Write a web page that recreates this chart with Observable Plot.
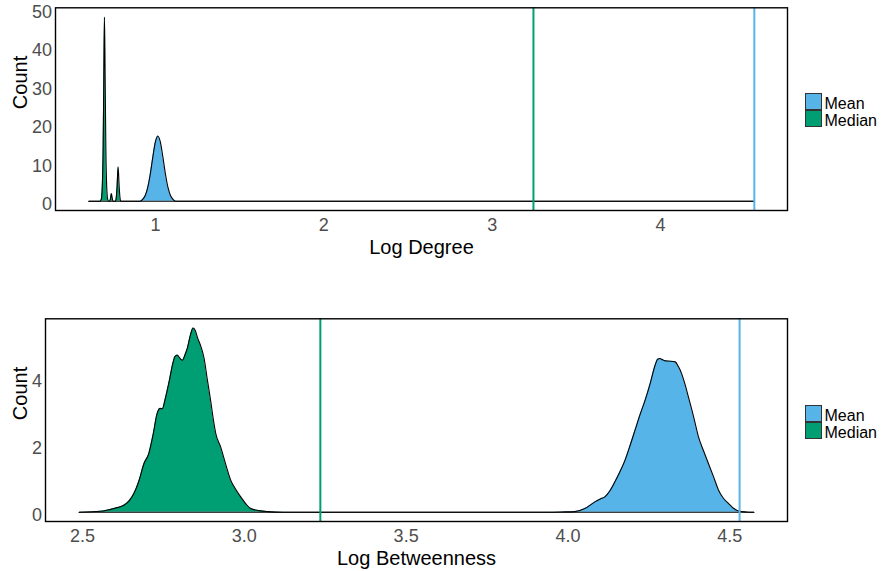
<!DOCTYPE html>
<html>
<head>
<meta charset="utf-8">
<script src="https://cdn.jsdelivr.net/npm/d3@7"></script>
<script src="https://cdn.jsdelivr.net/npm/@observablehq/plot@0.6"></script>
<style>
  html, body { margin: 0; padding: 0; background: white; }
  #wrap { position: relative; width: 881px; height: 571px; font-family: "Liberation Sans", Arial, sans-serif; }
  .panel { position: absolute; left: 0; }
  .legend { position: absolute; left: 804.5px; }
  .item { position: relative; height: 17px; }
  .sw { position: absolute; left: 0; top: 0; width: 17px; height: 17px; box-sizing: border-box; border: 1.4px solid #333; }
  .lab { position: absolute; left: 20px; top: 1.5px; font-size: 16px; line-height: 17px; color: black; white-space: nowrap; }
</style>
</head>
<body>
<div id="wrap"></div>
<script>
// ---- data ----
const seriesNames = ["Mean", "Median"];
const seriesColors = ["#56B4E9", "#009E73"];

// Log Degree densities: [x, count]
const degreeMean = [
  [0.604, 0], [0.909, 0], [0.924, 0.5], [0.939, 1.5], [0.954, 3.6], [0.969, 7.1], [0.984, 11.5],
  [0.999, 15.4], [1.014, 17], [1.029, 15.4], [1.044, 11.5], [1.059, 7.1], [1.074, 3.6],
  [1.089, 1.5], [1.104, 0.5], [1.119, 0], [4.557, 0]
];
const degreeMedian = [
  [0.604, 0], [0.670, 0], [0.678, 0.5], [0.684, 4], [0.689, 14], [0.693, 32], [0.697, 48],
  [0.701, 32], [0.705, 14], [0.710, 4], [0.716, 0.5], [0.722, 0], [0.728, 0], [0.733, 0.8],
  [0.738, 2], [0.743, 0.8], [0.748, 0], [0.762, 0], [0.767, 1], [0.772, 4], [0.778, 9],
  [0.784, 4], [0.789, 1], [0.794, 0], [4.557, 0]
];
const degreeRefLines = [4.557, 3.245]; // Mean, Median

// Log Betweenness densities: [x, count]
const betwMean = [
  [2.490, 0], [3.900, 0], [3.980, 0.01], [4.021, 0.02], [4.052, 0.11], [4.083, 0.31], [4.100, 0.40],
  [4.114, 0.46], [4.130, 0.65], [4.145, 0.91], [4.160, 1.2], [4.176, 1.55], [4.192, 2.0],
  [4.207, 2.45], [4.222, 2.9], [4.238, 3.34], [4.254, 3.85], [4.269, 4.39], [4.277, 4.57],
  [4.284, 4.59], [4.292, 4.55], [4.300, 4.52], [4.315, 4.51], [4.331, 4.49], [4.341, 4.35],
  [4.351, 4.14], [4.362, 3.8], [4.372, 3.44], [4.388, 2.85], [4.403, 2.25], [4.418, 1.85],
  [4.434, 1.45], [4.450, 1.05], [4.465, 0.66], [4.480, 0.42], [4.496, 0.26], [4.511, 0.12],
  [4.527, 0.04], [4.550, 0.01], [4.574, 0]
];
const betwMedian = [
  [2.490, 0], [2.556, 0.03], [2.600, 0.12], [2.628, 0.21], [2.645, 0.35], [2.659, 0.56],
  [2.675, 0.95], [2.690, 1.45], [2.705, 1.75], [2.718, 2.3], [2.731, 2.95], [2.740, 3.1],
  [2.747, 3.09], [2.755, 3.35], [2.762, 3.64], [2.770, 4.0], [2.778, 4.39], [2.786, 4.65],
  [2.793, 4.69], [2.801, 4.6], [2.809, 4.54], [2.817, 4.7], [2.824, 4.89], [2.834, 5.3],
  [2.842, 5.50], [2.849, 5.42], [2.855, 5.23], [2.866, 4.95], [2.876, 4.59], [2.886, 3.95],
  [2.896, 3.34], [2.904, 2.8], [2.912, 2.35], [2.927, 1.95], [2.942, 1.45], [2.958, 0.96],
  [2.974, 0.68], [2.989, 0.46], [3.005, 0.25], [3.020, 0.11], [3.045, 0.05], [3.072, 0.02],
  [3.120, 0], [4.574, 0]
];
const betwRefLines = [4.530, 3.235]; // Mean, Median

const degreeXTicks = [1, 2, 3, 4];
const degreeYTicks = [0, 10, 20, 30, 40, 50];
const betwXTicks = [2.5, 3.0, 3.5, 4.0, 4.5];
const betwYTicks = [0, 2, 4];

// ---- drawing ----
const FONT = "Liberation Sans, Arial, Helvetica, sans-serif";

function panel(o) {
  const rows = [
    ...o.mean.map(([x, y]) => ({x, y, s: seriesNames[0]})),
    ...o.median.map(([x, y]) => ({x, y, s: seriesNames[1]}))
  ];
  const refs = o.refs.map((v, i) => ({v, s: seriesNames[i]}));
  return Plot.plot({
    width: 881,
    height: o.height,
    marginTop: o.marginTop,
    marginBottom: o.marginBottom,
    marginLeft: o.marginLeft,
    marginRight: 94,
    style: {fontFamily: FONT, background: "white", overflow: "visible"},
    x: {domain: o.xDomain},
    y: {domain: o.yDomain},
    color: {domain: seriesNames, range: seriesColors},
    marks: [
      Plot.areaY(rows, {x: "x", y: "y", z: "s", fill: "s", curve: "monotone-x"}),
      Plot.lineY(rows, {x: "x", y: "y", z: "s", stroke: "black", strokeWidth: 1.1, curve: "monotone-x"}),
      Plot.ruleX(refs, {x: "v", stroke: "s", strokeWidth: 2}),
      Plot.frame({stroke: "black", strokeWidth: 1.4}),
      Plot.axisX({ticks: o.xTicks, tickFormat: o.xFormat, tickSize: 0, tickPadding: 8,
        fontSize: 18, fill: "#4d4d4d", label: null}),
      Plot.axisY({ticks: o.yTicks, tickFormat: d => String(d), tickSize: 0, tickPadding: 3.5,
        fontSize: 18, fill: "#4d4d4d", label: null, dy: 3}),
      Plot.text([o.xLabel], {text: d => d, frameAnchor: "bottom", lineAnchor: "middle", dy: 37, fontSize: 20, fill: "black"}),
      Plot.text(["Count"], {text: d => d, frameAnchor: "left", lineAnchor: "middle", dx: o.countDx, rotate: -90, fontSize: 20, fill: "black"})
    ]
  });
}

function legend(top) {
  const div = document.createElement("div");
  div.className = "legend";
  div.style.top = top + "px";
  seriesNames.forEach((name, i) => {
    const item = document.createElement("div");
    item.className = "item";
    const sw = document.createElement("div");
    sw.className = "sw";
    sw.style.background = seriesColors[i];
    const lab = document.createElement("div");
    lab.className = "lab";
    lab.textContent = name;
    item.appendChild(sw);
    item.appendChild(lab);
    div.appendChild(item);
  });
  return div;
}

const wrap = document.getElementById("wrap");

const top1 = panel({
  mean: degreeMean, median: degreeMedian, refs: degreeRefLines,
  height: 285, marginTop: 7.3, marginBottom: 75, marginLeft: 55,
  xDomain: [0.406, 4.754], yDomain: [-2.4, 50.4],
  xTicks: degreeXTicks, yTicks: degreeYTicks, xFormat: d => String(d),
  xLabel: "Log Degree", countDx: -34.5
});
top1.classList.add("panel");
top1.style.top = "0px";
wrap.appendChild(top1);

const bot = panel({
  mean: betwMean, median: betwMedian, refs: betwRefLines,
  height: 286, marginTop: 33.3, marginBottom: 50, marginLeft: 45,
  xDomain: [2.386, 4.678], yDomain: [-0.275, 5.775],
  xTicks: betwXTicks, yTicks: betwYTicks, xFormat: d3.format(".1f"),
  xLabel: "Log Betweenness", countDx: -25
});
bot.classList.add("panel");
bot.style.top = "285px";
wrap.appendChild(bot);

wrap.appendChild(legend(93));
wrap.appendChild(legend(405));
</script>
</body>
</html>
